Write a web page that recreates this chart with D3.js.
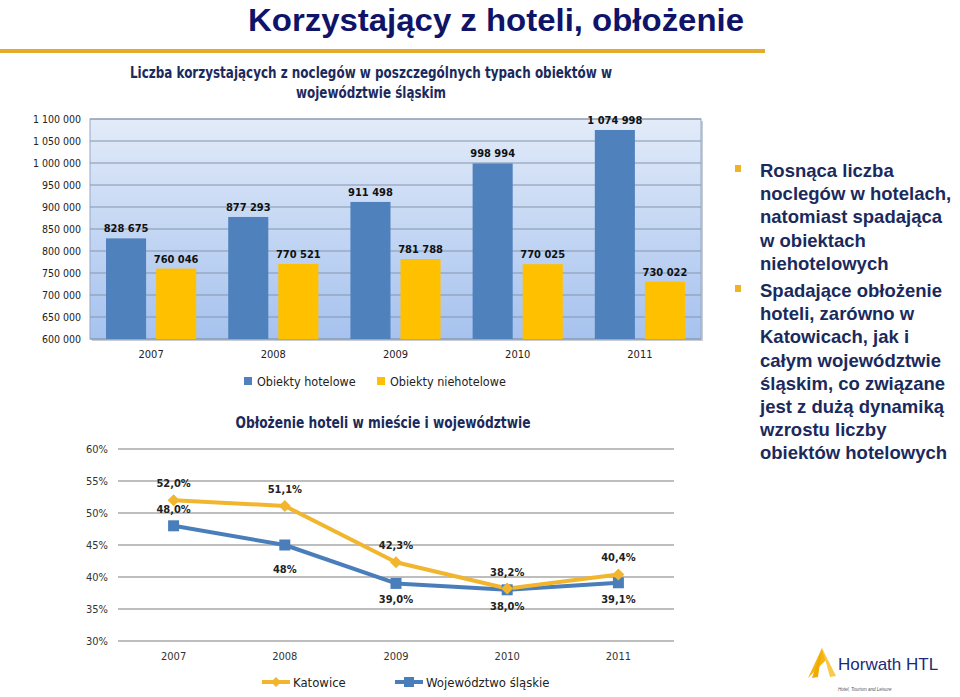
<!DOCTYPE html>
<html>
<head>
<meta charset="utf-8">
<script src="https://cdn.jsdelivr.net/npm/d3@7"></script>
<style>
  body { margin: 0; background: #fff; }
  svg { display: block; }
</style>
</head>
<body>
<svg id="viz" width="960" height="697"></svg>
<script>
// ---- data ----
var years = ["2007", "2008", "2009", "2010", "2011"];
var hotelowe = [828675, 877293, 911498, 998994, 1074998];
var niehotelowe = [760046, 770521, 781788, 770025, 730022];
var barTicks = [600000, 650000, 700000, 750000, 800000, 850000, 900000, 950000, 1000000, 1050000, 1100000];
var seriesNames = ["Obiekty hotelowe", "Obiekty niehotelowe"];

var katowice = [52.0, 51.1, 42.3, 38.2, 40.4];
var wojewodztwo = [48.0, 45.0, 39.0, 38.0, 39.1];
var katowiceLabels = ["52,0%", "51,1%", "42,3%", "38,2%", "40,4%"];
var wojewodztwoLabels = ["48,0%", "48%", "39,0%", "38,0%", "39,1%"];
var pctTicks = [30, 35, 40, 45, 50, 55, 60];
var lineNames = ["Katowice", "Województwo śląskie"];

var bullet1 = ["Rosnąca liczba", "noclegów w hotelach,", "natomiast spadająca", "w obiektach", "niehotelowych"];
var bullet2 = ["Spadające obłożenie", "hoteli, zarówno w", "Katowicach, jak i", "całym województwie", "śląskim, co związane", "jest z dużą dynamiką", "wzrostu liczby", "obiektów hotelowych"];

var navy = "#1b2a5c";
var blue = "#4f81bd", yellow = "#ffc000";
var kColor = "#f2b52e", wColor = "#4a7ebb";
var narrow = "'Liberation Sans Narrow','Arial Narrow','DejaVu Sans Condensed',sans-serif";
var arial = "'Liberation Sans',Arial,sans-serif";

var pl = d3.formatLocale({decimal: ",", thousands: " ", grouping: [3], currency: ["", ""]});
var fmt = pl.format(",d");

var svg = d3.select("#viz");

// ---- header ----
svg.append("text")
    .attr("x", 248).attr("y", 31)
    .attr("textLength", 496).attr("lengthAdjust", "spacingAndGlyphs")
    .style("font-family", arial).style("font-weight", "bold").style("font-size", "32px")
    .style("fill", "#0f1468")
    .text("Korzystający z hoteli, obłożenie");

svg.append("rect").attr("x", 0).attr("y", 49).attr("width", 765).attr("height", 4).attr("fill", "#e6aa2a");

svg.append("text").attr("x", 371).attr("y", 78).attr("text-anchor", "middle")
    .attr("textLength", 482).attr("lengthAdjust", "spacingAndGlyphs")
    .style("font-family", narrow).style("font-weight", "bold").style("font-size", "15px").style("fill", navy)
    .text("Liczba korzystających z noclegów w poszczególnych typach obiektów w");
svg.append("text").attr("x", 371).attr("y", 98).attr("text-anchor", "middle")
    .attr("textLength", 150).attr("lengthAdjust", "spacingAndGlyphs")
    .style("font-family", narrow).style("font-weight", "bold").style("font-size", "15px").style("fill", navy)
    .text("województwie śląskim");

// ---- bar chart ----
var bx = d3.scaleBand().domain(years).range([90, 701]);
var bInner = d3.scaleBand().domain([0, 1]).range([0, bx.bandwidth()]).paddingInner(0.2).paddingOuter(0.32);
var by = d3.scaleLinear().domain([600000, 1100000]).range([339, 119]);

var defs = svg.append("defs");
var grad = defs.append("linearGradient").attr("id", "bg").attr("x1", 0).attr("y1", 0).attr("x2", 0).attr("y2", 1);
grad.append("stop").attr("offset", "0%").attr("stop-color", "#e2ebf9");
grad.append("stop").attr("offset", "100%").attr("stop-color", "#a6c2ee");

var bar = svg.append("g");
bar.append("rect").attr("x", 92).attr("y", 121).attr("width", 611).attr("height", 220).attr("fill", "#c8ccd4");
bar.append("rect").attr("x", 90).attr("y", 119).attr("width", 611).attr("height", 220)
    .attr("fill", "url(#bg)").attr("stroke", "#95a8c6").attr("stroke-width", 1);

bar.append("g").selectAll("line").data(barTicks).enter().append("line")
    .attr("x1", 90).attr("x2", 701)
    .attr("y1", function(d) { return by(d); }).attr("y2", function(d) { return by(d); })
    .attr("stroke", "#8595ab").attr("stroke-width", 1);

bar.append("g").selectAll("text").data(barTicks).enter().append("text")
    .attr("x", 81).attr("y", function(d) { return by(d) + 4; })
    .attr("text-anchor", "end")
    .style("font-family", narrow).style("font-size", "10.5px").style("fill", "#222")
    .text(function(d) { return fmt(d); });

var barSeries = [hotelowe, niehotelowe];
var barColors = [blue, yellow];
barSeries.forEach(function(vals, s) {
  var g = bar.append("g");
  g.selectAll("rect").data(vals).enter().append("rect")
      .attr("x", function(d, i) { return bx(years[i]) + bInner(s); })
      .attr("y", function(d) { return by(d); })
      .attr("width", bInner.bandwidth())
      .attr("height", function(d) { return 339 - by(d); })
      .attr("fill", barColors[s]);
  g.selectAll("text").data(vals).enter().append("text")
      .attr("x", function(d, i) { return bx(years[i]) + bInner(s) + bInner.bandwidth() / 2; })
      .attr("y", function(d) { return by(d) - 6; })
      .attr("text-anchor", "middle")
      .style("font-family", narrow).style("font-weight", "bold").style("font-size", "11px").style("fill", "#111")
      .text(function(d) { return fmt(d); });
});

bar.append("g").selectAll("text").data(years).enter().append("text")
    .attr("x", function(d) { return bx(d) + bx.bandwidth() / 2; })
    .attr("y", 358).attr("text-anchor", "middle")
    .style("font-family", narrow).style("font-size", "11px").style("fill", "#222")
    .text(function(d) { return d; });

var legX = [244, 377];
seriesNames.forEach(function(n, i) {
  bar.append("rect").attr("x", legX[i]).attr("y", 377).attr("width", 8).attr("height", 8).attr("fill", barColors[i]);
  bar.append("text").attr("x", legX[i] + 13).attr("y", 386)
      .style("font-family", narrow).style("font-size", "12.5px").style("fill", "#222").text(n);
});

// ---- line chart ----
svg.append("text").attr("x", 383).attr("y", 428).attr("text-anchor", "middle")
    .attr("textLength", 295).attr("lengthAdjust", "spacingAndGlyphs")
    .style("font-family", narrow).style("font-weight", "bold").style("font-size", "15px").style("fill", navy)
    .text("Obłożenie hoteli w mieście i województwie");

var lx = d3.scaleBand().domain(years).range([118, 674]);
var ly = d3.scaleLinear().domain([30, 60]).range([641, 449]);
var cx = function(i) { return lx(years[i]) + lx.bandwidth() / 2; };

var lc = svg.append("g");
lc.append("g").selectAll("line").data(pctTicks).enter().append("line")
    .attr("x1", 118).attr("x2", 674)
    .attr("y1", function(d) { return ly(d); }).attr("y2", function(d) { return ly(d); })
    .attr("stroke", "#a8a8a8").attr("stroke-width", 1.5);
lc.append("g").selectAll("text").data(pctTicks).enter().append("text")
    .attr("x", 108).attr("y", function(d) { return ly(d) + 4; }).attr("text-anchor", "end")
    .style("font-family", narrow).style("font-size", "11px").style("fill", "#333")
    .text(function(d) { return d + "%"; });
lc.append("g").selectAll("text").data(years).enter().append("text")
    .attr("x", function(d, i) { return cx(i); }).attr("y", 660).attr("text-anchor", "middle")
    .style("font-family", narrow).style("font-size", "11px").style("fill", "#333")
    .text(function(d) { return d; });

var line = d3.line().x(function(d, i) { return cx(i); }).y(function(d) { return ly(d); });
var diamond = "M0,-6L6,0L0,6L-6,0Z";

lc.append("path").datum(wojewodztwo).attr("d", line)
    .attr("fill", "none").attr("stroke", wColor).attr("stroke-width", 4).attr("stroke-linejoin", "round");
lc.append("path").datum(katowice).attr("d", line)
    .attr("fill", "none").attr("stroke", kColor).attr("stroke-width", 4).attr("stroke-linejoin", "round");

lc.append("g").selectAll("rect").data(wojewodztwo).enter().append("rect")
    .attr("x", function(d, i) { return cx(i) - 5.5; }).attr("y", function(d) { return ly(d) - 5.5; })
    .attr("width", 11).attr("height", 11).attr("fill", wColor);
lc.append("g").selectAll("path").data(katowice).enter().append("path")
    .attr("d", diamond)
    .attr("transform", function(d, i) { return "translate(" + cx(i) + "," + ly(d) + ")"; })
    .attr("fill", kColor);

lc.append("g").selectAll("text").data(katowice).enter().append("text")
    .attr("x", function(d, i) { return cx(i); }).attr("y", function(d) { return ly(d) - 13; })
    .attr("text-anchor", "middle")
    .style("font-family", narrow).style("font-weight", "bold").style("font-size", "11px").style("fill", "#222")
    .text(function(d, i) { return katowiceLabels[i]; });
lc.append("g").selectAll("text").data(wojewodztwo).enter().append("text")
    .attr("x", function(d, i) { return cx(i); })
    .attr("y", function(d, i) { return i == 0 ? ly(d) - 13 : ly(d) + (i == 1 ? 28 : 20); })
    .attr("text-anchor", "middle")
    .style("font-family", narrow).style("font-weight", "bold").style("font-size", "11px").style("fill", "#222")
    .text(function(d, i) { return wojewodztwoLabels[i]; });

// legend
var lineLegX = [262, 395];
var lineColors = [kColor, wColor];
lineNames.forEach(function(n, i) {
  var x0 = lineLegX[i];
  lc.append("line").attr("x1", x0).attr("x2", x0 + 28).attr("y1", 682).attr("y2", 682)
      .attr("stroke", lineColors[i]).attr("stroke-width", 4);
  if (i == 0) {
    lc.append("path").attr("d", "M0,-5L5,0L0,5L-5,0Z").attr("transform", "translate(" + (x0 + 14) + ",682)").attr("fill", kColor);
  } else {
    lc.append("rect").attr("x", x0 + 9).attr("y", 677).attr("width", 10).attr("height", 10).attr("fill", wColor);
  }
  lc.append("text").attr("x", x0 + 31).attr("y", 687)
      .style("font-family", narrow).style("font-size", "13px").style("fill", "#222").text(n);
});

// ---- bullets on the right ----
var rt = svg.append("g");
var lh = 23.2;
function para(lines, y0) {
  rt.append("rect").attr("x", 735).attr("y", y0 - 12).attr("width", 6).attr("height", 7).attr("fill", "#f0b323");
  lines.forEach(function(t, i) {
    rt.append("text").attr("x", 760).attr("y", y0 + i * lh)
        .style("font-family", arial).style("font-weight", "bold").style("font-size", "18.5px").style("fill", navy)
        .text(t);
  });
}
para(bullet1, 177);
para(bullet2, 297);

// ---- logo ----
var logo = svg.append("g");
logo.append("path").attr("d", "M808,678 L822,648 L826,660 Z").attr("fill", "#f5b415");
logo.append("path").attr("d", "M822,648 L836,676 L830,677 Z").attr("fill", "#f8c94a");
logo.append("path").attr("d", "M822,648 L818,677 L812,678 Z").attr("fill", "#f2a900");
logo.append("text").attr("x", 838).attr("y", 670)
    .style("font-family", arial).style("font-size", "17px").style("fill", "#1c2a78").text("Horwath HTL");
logo.append("text").attr("x", 838).attr("y", 691)
    .style("font-family", arial).style("font-style", "italic").style("font-size", "4.5px").style("fill", "#555")
    .text("Hotel, Tourism and Leisure");
</script>
</body>
</html>
